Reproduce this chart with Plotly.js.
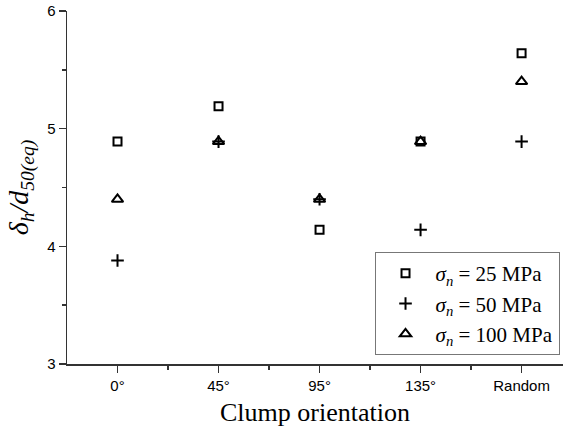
<!DOCTYPE html>
<html>
<head>
<meta charset="utf-8">
<script src="https://cdn.plot.ly/plotly-3.0.1.min.js"></script>
<style>html,body{margin:0;padding:0;background:#fff;}</style>
</head>
<body>
<div id="chart" style="width:563px;height:434px;"></div>
<script>
var categories = ["0°", "45°", "95°", "135°", "Random"];
var catIndex = [0, 1, 2, 3, 4];
var s25 = [4.89, 5.19, 4.14, 4.89, 5.64];
var s50 = [3.88, 4.89, 4.40, 4.14, 4.89];
var s100 = [4.40, 4.89, 4.40, 4.89, 5.40];
var seriesNames = ["<i>σ<sub>n</sub></i> = 25 MPa", "<i>σ<sub>n</sub></i> = 50 MPa", "<i>σ<sub>n</sub></i> = 100 MPa"];

function tr(y, name, sym, size) {
  return {
    x: catIndex, y: y, name: name, type: 'scatter', mode: 'markers',
    marker: {symbol: sym, size: size, color: '#000', line: {color: '#000', width: 2}}
  };
}
var data = [
  tr(s25, seriesNames[0], 'square-open', 8),
  tr(s50, seriesNames[1], 'cross-thin-open', 9),
  tr(s100, seriesNames[2], 'triangle-up-open', 10)
];

var layout = {
  width: 563, height: 434,
  margin: {l: 67, r: 0, t: 11, b: 70},
  paper_bgcolor: '#fff', plot_bgcolor: '#fff',
  showlegend: true,
  legend: {
    x: 0.62, y: 0.317, xanchor: 'left', yanchor: 'top',
    bgcolor: '#fff', bordercolor: '#777', borderwidth: 1,
    font: {family: 'Liberation Serif, Times New Roman, serif', size: 21, color: '#000'},
    itemwidth: 50
  },
  xaxis: {
    range: [-0.5, 4.41], tickmode: 'array', tickvals: catIndex, ticktext: categories,
    showgrid: false, zeroline: false, showline: true, linecolor: '#333', linewidth: 1.5,
    ticks: 'outside', ticklen: 7, tickwidth: 1.5, tickcolor: '#333',
    minor: {tickmode: 'array', tickvals: [0.5, 1.5, 2.5, 3.5], ticks: 'outside', ticklen: 4, tickwidth: 1.5, tickcolor: '#333'},
    tickfont: {family: 'Liberation Sans, Arial, sans-serif', size: 15, color: '#000'},
    title: {text: 'Clump orientation', font: {family: 'Liberation Serif, Times New Roman, serif', size: 26, color: '#000'}, standoff: 10}
  },
  xaxis2: {
    overlaying: 'x', side: 'top', range: [-0.5, 4.41], tickmode: 'array', tickvals: catIndex,
    showticklabels: false, showgrid: false, zeroline: false, showline: true, linecolor: '#333', linewidth: 1.5,
    ticks: 'inside', ticklen: 7, tickwidth: 1.5, tickcolor: '#333',
    minor: {tickmode: 'array', tickvals: [0.5, 1.5, 2.5, 3.5], ticks: 'inside', ticklen: 4, tickwidth: 1.5, tickcolor: '#333'}
  },
  yaxis: {
    range: [3, 6], tickmode: 'array', tickvals: [3, 4, 5, 6],
    showgrid: false, zeroline: false, showline: true, linecolor: '#333', linewidth: 1.5,
    ticks: 'outside', ticklen: 7, tickwidth: 1.5, tickcolor: '#333',
    minor: {tickmode: 'array', tickvals: [3.5, 4.5, 5.5], ticks: 'outside', ticklen: 4, tickwidth: 1.5, tickcolor: '#333'},
    tickfont: {family: 'Liberation Sans, Arial, sans-serif', size: 15, color: '#000'},
    title: {text: '<i>δ<sub>h</sub>/d<sub>50(eq)</sub></i>', font: {family: 'Liberation Serif, Times New Roman, serif', size: 28, color: '#000'}, standoff: 10}
  }
};
Plotly.newPlot('chart', data, layout, {displayModeBar: false, staticPlot: true});
</script>
</body>
</html>
